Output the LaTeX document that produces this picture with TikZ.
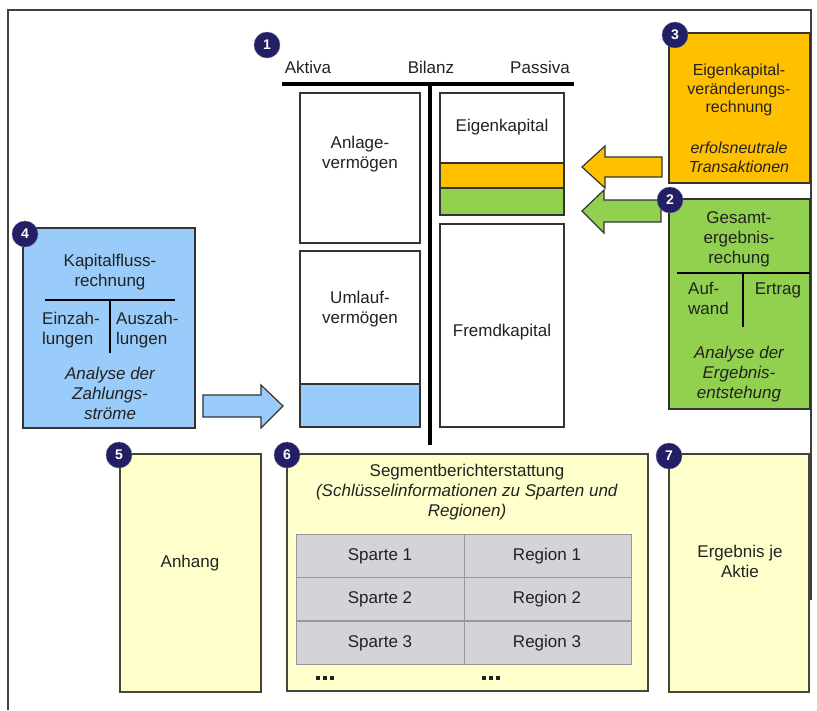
\documentclass[tikz,border=0pt]{standalone}
\usepackage{fontspec}
\setmainfont{Liberation Sans}
\usepackage{tikz}

\definecolor{badgeblue}{RGB}{35,31,100}
\definecolor{ekorange}{RGB}{255,192,0}
\definecolor{gergreen}{RGB}{146,208,80}
\definecolor{kfblue}{RGB}{153,204,250}
\definecolor{noteyellow}{RGB}{255,255,204}
\definecolor{cellgray}{RGB}{212,212,216}
\definecolor{textgray}{RGB}{34,34,34}

\begin{document}
\begin{tikzpicture}[x=1pt,y=-1pt,
  txt/.style={font=\fontsize{17}{20}\selectfont, text=textgray, align=center, inner sep=0pt},
  itxt/.style={txt, font=\fontsize{17}{20}\selectfont\itshape},
  box/.style={draw=black!80, line width=1.2pt},
  notebox/.style={draw={rgb,255:red,70;green,70;blue,50}, line width=1.2pt, fill=noteyellow},
  cell/.style={draw={rgb,255:red,150;green,150;blue,155}, line width=0.8pt, fill=cellgray},
  badge/.style={circle, fill=badgeblue, draw=badgeblue!70, minimum size=26pt, inner sep=0pt, text=white, font=\fontsize{14}{14}\selectfont\bfseries},
  tbar/.style={line width=4pt}]
\useasboundingbox (0,0) rectangle (817,710);
\draw[black!75, line width=1.5pt] (8,710) -- (8,10) -- (811,10) -- (811,600);

% Bilanz
\node[txt] (aktiva) at (308,67) {Aktiva};
\node[txt] (bilanz) at (431,67) {Bilanz};
\node[txt] (passiva) at (540,67) {Passiva};
\draw[tbar] (282,84) -- (574,84);
\draw[tbar] (430,84) -- (430,445);
\draw[box, fill=white] (300,93) rectangle (420,243);
\node[txt] (anlage) at (360,154) {Anlage-\\vermögen};
\draw[box, fill=white] (300,251) rectangle (420,427);
\draw[box, fill=kfblue] (300,384) rectangle (420,427);
\node[txt] (umlauf) at (360,309) {Umlauf-\\vermögen};
\draw[box, fill=white] (440,93) rectangle (564,215);
\draw[box, fill=ekorange] (440,163) rectangle (564,188);
\draw[box, fill=gergreen] (440,188) rectangle (564,215);
\node[txt] (eigen) at (502,127) {Eigenkapital};
\draw[box, fill=white] (440,224) rectangle (564,427);
\node[txt] (fremd) at (502,332) {Fremdkapital};

% Eigenkapitalveraenderungsrechnung
\draw[box, fill=ekorange] (669,33) rectangle (810,183);
\node[txt, font=\fontsize{16}{18.5}\selectfont] (ekv) at (739,90) {Eigenkapital-\\veränderungs-\\rechnung};
\node[itxt, font=\fontsize{16}{19}\selectfont\itshape] (neutral) at (739,157.5) {erfolsneutrale\\Transaktionen};
\draw[box, fill=ekorange] (582,167) -- (605,146) -- (605,157) -- (662,157) -- (662,177) -- (605,177) -- (605,188) -- cycle;

% Gesamtergebnisrechnung
\draw[box, fill=gergreen] (669,199) rectangle (810,409);
\node[txt] (ger) at (739,239) {Gesamt-\\ergebnis-\\rechung};
\draw[line width=2.5pt] (677,273) -- (810,273);
\draw[line width=2.5pt] (743,273) -- (743,327);
\node[txt, anchor=west, align=left] (aufwand) at (688,298) {Auf-\\wand};
\node[txt] (ertrag) at (778,290) {Ertrag};
\node[itxt] (analyseer) at (739,374) {Analyse der\\Ergebnis-\\entstehung};
\draw[box, fill=gergreen] (582,211) -- (604,190) -- (604,200) -- (661,200) -- (661,222) -- (604,222) -- (604,233) -- cycle;

% Kapitalflussrechnung
\draw[box, fill=kfblue] (23,228) rectangle (195,428);
\node[txt] (kf) at (110,272.5) {Kapitalfluss-\\rechnung};
\draw[line width=2.5pt] (45,300) -- (175,300);
\draw[line width=2.5pt] (110,300) -- (110,353);
\node[txt, anchor=west, align=left] (einzahl) at (42,330) {Einzah-\\lungen};
\node[txt, anchor=west, align=left] (auszahl) at (116,330) {Auszah-\\lungen};
\node[itxt] (analysekf) at (110,393) {Analyse der\\Zahlungs-\\ströme};
\draw[box, fill=kfblue] (283,406) -- (261,385) -- (261,395) -- (203,395) -- (203,417) -- (261,417) -- (261,428) -- cycle;

% Anhang, Segmente, Ergebnis je Aktie
\draw[notebox] (120,454) rectangle (261,692);
\node[txt] (anhang) at (190,563) {Anhang};
\draw[notebox] (287,454) rectangle (648,691);
\node[txt] (segment) at (467,492) {Segmentberichterstattung\\\textit{(Schlüsselinformationen zu Sparten und}\\\textit{Regionen)}};
\foreach \yt/\n in {534/1,577/2,621/3} {
  \draw[cell] (296,\yt) rectangle (464,\yt+43);
  \draw[cell] (464,\yt) rectangle (631,\yt+43);
  \node[txt] (sparte\n) at (380,\yt+22) {Sparte \n};
  \node[txt] (region\n) at (547,\yt+22) {Region \n};
}
\foreach \dx in {0,7,14} {
  \fill[textgray] (316+\dx,676) rectangle ++(4,4);
  \fill[textgray] (482+\dx,676) rectangle ++(4,4);
}
\draw[notebox] (669,454) rectangle (809,692);
\node[txt] (eps) at (740,561) {Ergebnis je\\Aktie};

% Nummern
\node[badge] (n1) at (267,45) {1};
\node[badge] (n2) at (670,200) {2};
\node[badge] (n3) at (675,35) {3};
\node[badge] (n4) at (25,234) {4};
\node[badge] (n5) at (119,455) {5};
\node[badge] (n6) at (287,455) {6};
\node[badge] (n7) at (669,456) {7};
\end{tikzpicture}
\end{document}
